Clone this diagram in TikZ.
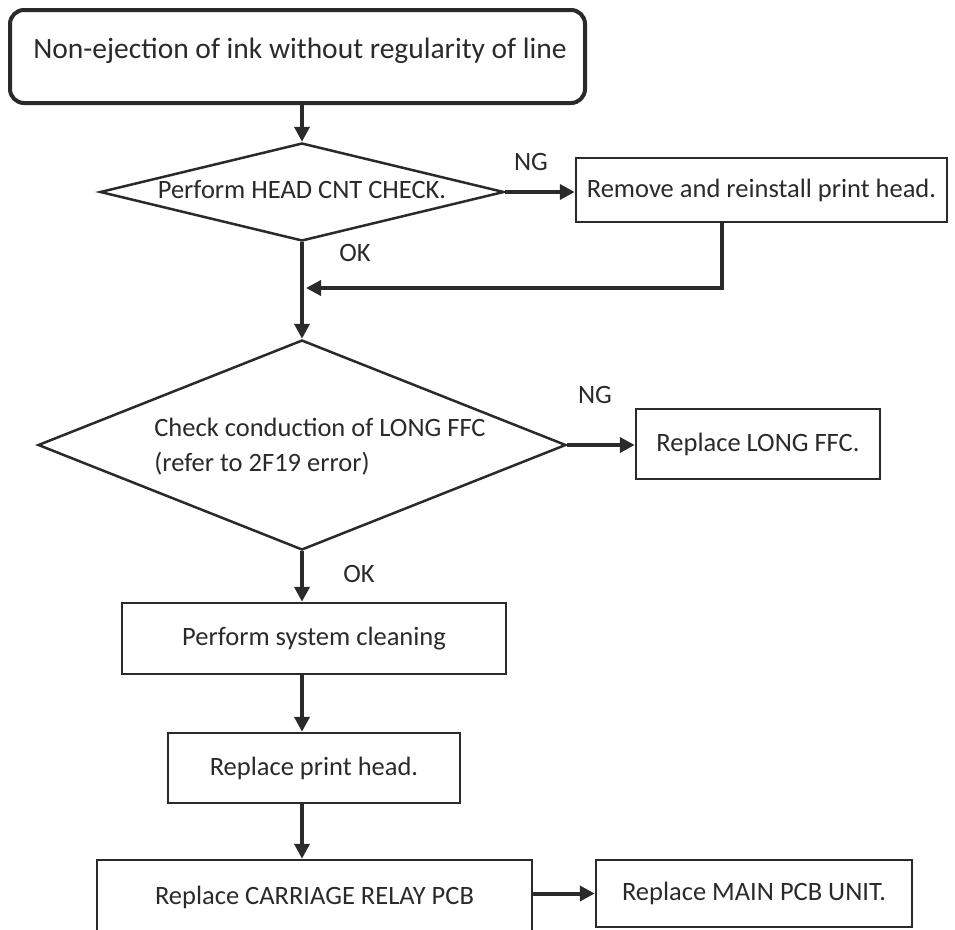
\documentclass[tikz,border=0pt]{standalone}
\usepackage{fontspec}
\setmainfont{Carlito}
\usetikzlibrary{arrows.meta,shapes.geometric}
\definecolor{ink}{HTML}{2A2A2A}
\begin{document}
\begin{tikzpicture}[x=1pt,y=-1pt,
  every node/.style={text=ink,font=\fontsize{26.5}{35}\selectfont},
  stepbox/.style={draw=ink,line width=2.5pt,rectangle,inner sep=0pt},
  startbox/.style={draw=ink,line width=4pt,rectangle,rounded corners=14pt,inner sep=0pt},
  decision/.style={draw=ink,line width=2.5pt,diamond,inner sep=0pt},
  flow/.style={draw=ink,line width=4pt,-{Triangle[length=15pt,width=15pt]}},
  plainflow/.style={draw=ink,line width=4pt},
  tag/.style={inner sep=0pt}]
\useasboundingbox (0,0) rectangle (955,929);

% main column
\coordinate (col) at (302,0);

% start
\node[startbox,minimum width=575pt,minimum height=93pt] (start) at (297.5,56.5) {};
\node[tag,font=\fontsize{29.5}{35}\selectfont] (starttxt) at (300,51) {Non-ejection of ink without regularity of line};

% head counter check
\node[decision,minimum width=404pt,minimum height=98pt] (d1) at (302,192) {};
\node[tag] (d1txt) at (302,190) {Perform HEAD CNT CHECK.};
\node[stepbox,minimum width=371pt,minimum height=64pt] (b2) at (761.5,190) {Remove and reinstall print head.};
\node[tag] (ng1) at (531,162) {NG};
\node[tag] (ok1) at (355,253) {OK};

% LONG FFC check
\node[decision,minimum width=528pt,minimum height=210pt] (d2) at (302,445) {};
\node[tag,align=left] (d2txt) at (320,447) {Check conduction of LONG FFC\\(refer to 2F19 error)};
\node[stepbox,minimum width=244pt,minimum height=70pt] (b3) at (758,444) {Replace LONG FFC.};
\node[tag] (ng2) at (595,395) {NG};
\node[tag] (ok2) at (359,574) {OK};

% remaining steps
\node[stepbox,minimum width=384pt,minimum height=71pt] (b4) at (314,638.5) {Perform system cleaning};
\node[stepbox,minimum width=292pt,minimum height=70pt] (b5) at (314,768) {Replace print head.};
\node[stepbox,minimum width=435pt,minimum height=74pt] (b6) at (314.5,897) {Replace CARRIAGE RELAY PCB};
\node[stepbox,minimum width=316pt,minimum height=67pt] (b7) at (754,893.5) {Replace MAIN PCB UNIT.};

% connectors
\draw[flow] (start.south -| col) -- (d1.north);
\draw[flow] (d1.east) -- (b2.west |- d1.east);
\draw[flow] (d1.south) -- (d2.north);
\coordinate (fb) at (722,288);
\draw[plainflow,line cap=rect] (b2.south -| fb) -- (fb);
\draw[flow] (fb) -- ([xshift=4pt]fb -| col);
\draw[flow] (d2.east) -- (b3.west |- d2.east);
\draw[flow] (d2.south) -- (b4.north -| d2.south);
\draw[flow] (b4.south -| col) -- (b5.north -| col);
\draw[flow] (b5.south -| col) -- (b6.north -| col);
\draw[flow] (b6.east |- b7.center) -- (b7.west);
\end{tikzpicture}
\end{document}
